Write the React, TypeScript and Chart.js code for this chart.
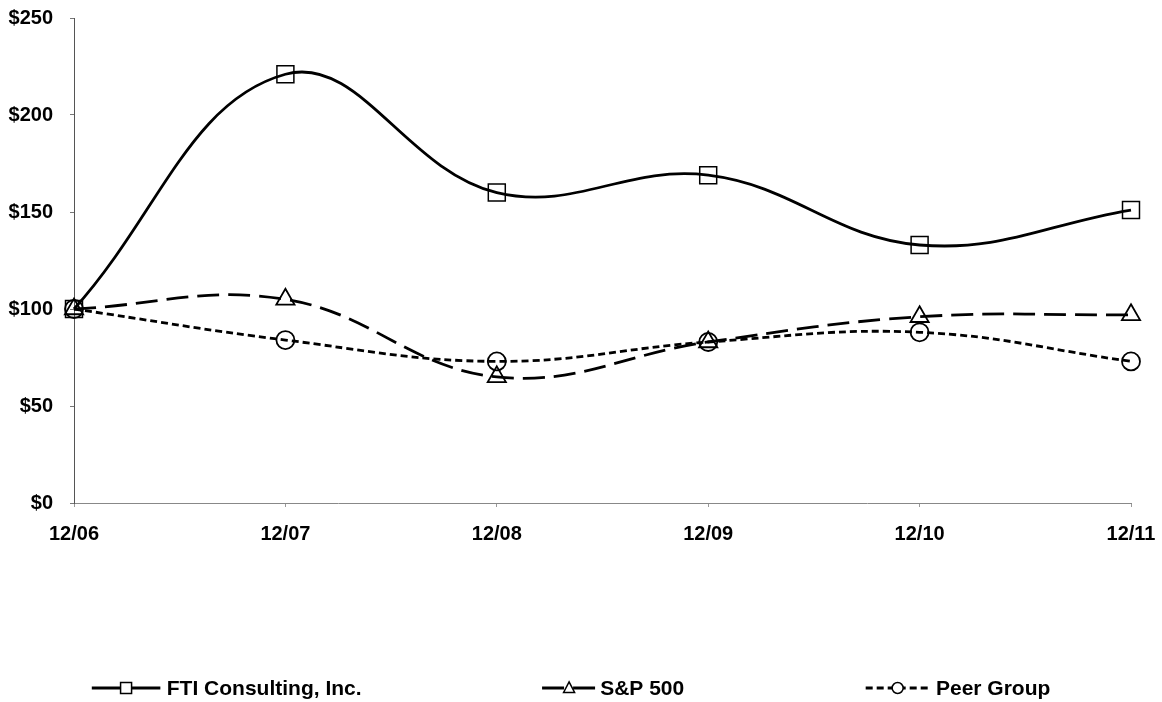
import React, { useEffect, useRef } from "react";
import { Chart, registerables } from "chart.js";

Chart.register(...registerables);

const categories = ["12/06", "12/07", "12/08", "12/09", "12/10", "12/11"];
const ftiValues = [100, 221, 160, 169, 133, 151];
const spValues = [100, 105, 65, 83, 96, 97];
const peerValues = [100, 84, 73, 83, 88, 73];
const seriesNames = ["FTI Consulting, Inc.", "S&P 500", "Peer Group"];

const FONT = "Arial, 'Liberation Sans', sans-serif";

function drawMarker(ctx: CanvasRenderingContext2D, style: string, x: number, y: number, r: number) {
  ctx.save();
  ctx.setLineDash([]);
  ctx.fillStyle = "#ffffff";
  ctx.strokeStyle = "#000000";
  ctx.lineWidth = 1.5;
  ctx.beginPath();
  if (style === "rect") {
    ctx.rect(x - r, y - r, 2 * r, 2 * r);
  } else if (style === "triangle") {
    ctx.moveTo(x, y - r * 1.1);
    ctx.lineTo(x + r, y + r * 0.8);
    ctx.lineTo(x - r, y + r * 0.8);
    ctx.closePath();
  } else {
    ctx.arc(x, y, r, 0, Math.PI * 2);
  }
  ctx.fill();
  ctx.stroke();
  ctx.restore();
}

// legend item layout as fractions of canvas width: [line start, line end, text start]
const legendLayout = [
  [0.079, 0.138, 0.1435],
  [0.4665, 0.513, 0.5165],
  [0.745, 0.8, 0.8055],
];

const legendPlugin = {
  id: "bottomLegend",
  afterDraw(chart: any) {
    const ctx: CanvasRenderingContext2D = chart.ctx;
    const w = chart.width;
    const y = chart.height - 14;
    chart.data.datasets.forEach((ds: any, i: number) => {
      const [a, b, t] = legendLayout[i];
      const x0 = w * a;
      const x1 = w * b;
      ctx.save();
      ctx.strokeStyle = "#000";
      ctx.lineWidth = ds.borderWidth;
      ctx.setLineDash(ds.borderDash || []);
      ctx.beginPath();
      ctx.moveTo(x0, y);
      ctx.lineTo(x1, y);
      ctx.stroke();
      ctx.restore();
      drawMarker(ctx, ds.pointStyle, (x0 + x1) / 2, y, 5.5);
      ctx.save();
      ctx.fillStyle = "#000";
      ctx.font = `bold 21px ${FONT}`;
      ctx.textBaseline = "middle";
      ctx.textAlign = "left";
      ctx.fillText(ds.label, w * t, y + 1);
      ctx.restore();
    });
  },
};

export default function App() {
  const ref = useRef<HTMLCanvasElement | null>(null);
  useEffect(() => {
    if (!ref.current) return;
    const chart = new Chart(ref.current, {
      type: "line",
      data: {
        labels: categories,
        datasets: [
          {
            label: seriesNames[0],
            data: ftiValues,
            borderColor: "#000",
            borderWidth: 2.8,
            pointStyle: "rect",
            pointRadius: 12,
            pointBackgroundColor: "rgba(255,255,255,0)",
            pointBorderColor: "#000",
            pointBorderWidth: 1.5,
            tension: 0.4,
          },
          {
            label: seriesNames[1],
            data: spValues,
            borderColor: "#000",
            borderWidth: 2.8,
            borderDash: [22, 9],
            pointStyle: "triangle",
            pointRadius: 10.5,
            pointBackgroundColor: "rgba(255,255,255,0)",
            pointBorderColor: "#000",
            pointBorderWidth: 1.8,
            tension: 0.4,
          },
          {
            label: seriesNames[2],
            data: peerValues,
            borderColor: "#000",
            borderWidth: 2.8,
            borderDash: [7, 4],
            pointStyle: "circle",
            pointRadius: 9,
            pointBackgroundColor: "rgba(255,255,255,0)",
            pointBorderColor: "#000",
            pointBorderWidth: 1.8,
            tension: 0.4,
          },
        ] as any,
      },
      options: {
        animation: false,
        responsive: true,
        maintainAspectRatio: false,
        layout: { autoPadding: false, padding: { top: 18, right: 31, left: 0, bottom: 0 } },
        plugins: {
          legend: { display: false },
          tooltip: { enabled: false },
        },
        elements: { line: { capBezierPoints: false } as any },
        scales: {
          x: {
            offset: false,
            grid: { drawOnChartArea: false, drawTicks: true, tickLength: 4, color: "#999" },
            border: { color: "#888", dash: [2, 2], width: 1 },
            ticks: {
              color: "#000",
              font: { family: FONT, size: 20, weight: "bold" },
              padding: 15,
              maxRotation: 0,
              autoSkip: false,
            },
            afterFit: (s: any) => {
              s.height = 199;
              s.paddingLeft = 0;
              s.paddingRight = 0;
            },
          },
          y: {
            min: 0,
            max: 250,
            grid: { drawOnChartArea: false, drawTicks: true, tickLength: 4, color: "#777" },
            border: { color: "#555", width: 1 },
            ticks: {
              stepSize: 50,
              color: "#000",
              padding: 17,
              font: { family: FONT, size: 20, weight: "bold" },
              callback: (v: any) => "$" + v,
            },
            afterFit: (s: any) => {
              s.width = 74;
              s.paddingTop = 0;
              s.paddingBottom = 0;
            },
          },
        },
      } as any,
      plugins: [legendPlugin],
    });
    return () => chart.destroy();
  }, []);
  return (
    <div style={{ position: "absolute", left: 0, top: 0, width: 1162, height: 702, background: "#fff" }}>
      <canvas ref={ref} />
    </div>
  );
}
